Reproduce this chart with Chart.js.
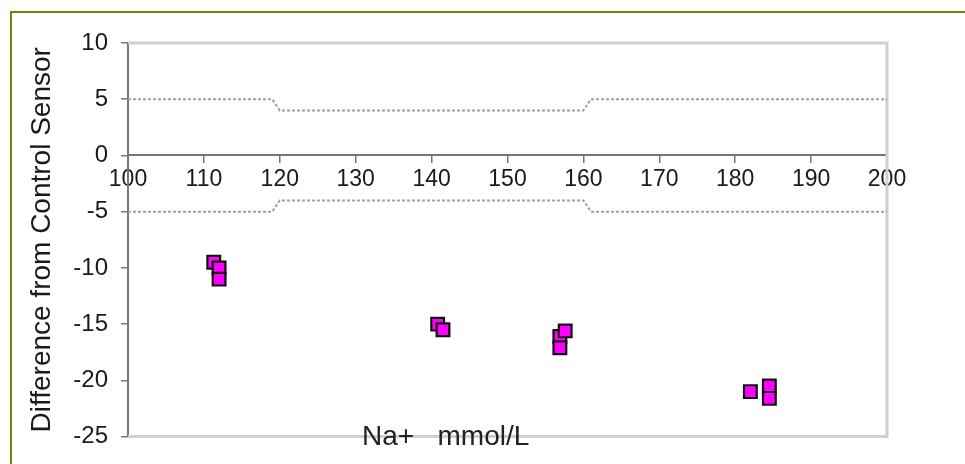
<!DOCTYPE html>
<html>
<head>
<meta charset="utf-8">
<script src="https://cdn.jsdelivr.net/npm/chart.js@4"></script>
<style>
  html, body { margin: 0; padding: 0; background: #ffffff; }
  #frame { position: absolute; left: 10px; top: 11px; right: 0; bottom: 0; border-top: 2px solid #808000; border-left: 2px solid #808000; }
  #wrap { position: absolute; left: 0; top: 0; width: 965px; height: 464px; }
</style>
</head>
<body>
<div id="frame"></div>
<div id="wrap"><canvas id="c"></canvas></div>
<script>
// Measured points: Na+ concentration (mmol/L) vs difference from control sensor
const naValues = [111.3, 112, 112, 140.8, 141.5, 156.9, 157.6, 156.9, 182, 184.5, 184.5];
const diffValues = [-9.5, -10, -11, -15, -15.5, -16.1, -15.6, -17.1, -21, -20.5, -21.6];

// Acceptance limits
const limitNa = [100, 119, 120, 160, 161, 200];
const upperLimit = [5, 5, 4, 4, 5, 5];
const lowerLimit = [-5, -5, -4, -4, -5, -5];

// Axis settings
const xMin = 100, xMax = 200, xStep = 10;
const yMin = -25, yMax = 10, yStep = 5;
const yTitle = 'Difference from Control Sensor';
const xTitle = 'Na+   mmol/L';

const pts = (xs, ys) => xs.map((x, i) => ({ x: x, y: ys[i] }));

const plotFrame = {
  id: 'plotFrame',
  beforeDatasetsDraw(chart) {
    const { ctx, chartArea: a } = chart;
    ctx.save();
    ctx.strokeStyle = '#cfcfcf';
    ctx.lineWidth = 3;
    ctx.beginPath();
    ctx.moveTo(a.left, a.top);
    ctx.lineTo(a.right, a.top);
    ctx.lineTo(a.right, a.bottom);
    ctx.lineTo(a.left, a.bottom);
    ctx.stroke();
    ctx.restore();
  },
  afterDatasetsDraw(chart) {
    const { ctx } = chart;
    ctx.save();
    ctx.font = '28px "Liberation Sans", Arial, sans-serif';
    ctx.fillStyle = '#222';
    ctx.textAlign = 'left';
    ctx.textBaseline = 'alphabetic';
    ctx.fillText(xTitle, 362, 445);
    ctx.restore();
  }
};

new Chart(document.getElementById('c'), {
  type: 'scatter',
  data: {
    datasets: [
      {
        data: pts(limitNa, upperLimit),
        showLine: true,
        borderColor: '#a0a0a0',
        borderWidth: 2,
        borderDash: [3, 2],
        pointRadius: 0,
        fill: false,
        tension: 0
      },
      {
        data: pts(limitNa, lowerLimit),
        showLine: true,
        borderColor: '#a0a0a0',
        borderWidth: 2,
        borderDash: [3, 2],
        pointRadius: 0,
        fill: false,
        tension: 0
      },
      {
        data: pts(naValues, diffValues),
        pointStyle: 'rect',
        pointRadius: 9,
        backgroundColor: '#ff00ff',
        borderColor: '#111',
        borderWidth: 2.2,
        showLine: false
      }
    ]
  },
  options: {
    responsive: true,
    maintainAspectRatio: false,
    animation: false,
    events: [],
    layout: { padding: { top: 43, right: 78, bottom: 27, left: 0 } },
    plugins: { legend: { display: false }, tooltip: { enabled: false } },
    scales: {
      x: {
        type: 'linear',
        position: { y: 0 },
        min: xMin, max: xMax,
        ticks: { stepSize: xStep, color: '#1a1a1a', padding: 3, font: { family: '"Liberation Sans", Arial, sans-serif', size: 23 } },
        grid: { drawOnChartArea: false, drawTicks: true, tickLength: 7, color: '#777', lineWidth: 1.5 },
        border: { display: true, color: '#777', width: 2 }
      },
      y: {
        type: 'linear',
        position: 'left',
        min: yMin, max: yMax,
        afterFit(scale) { scale.width = 128; },
        ticks: { stepSize: yStep, color: '#1a1a1a', padding: 13, font: { family: '"Liberation Sans", Arial, sans-serif', size: 24 } },
        grid: { drawOnChartArea: false, drawTicks: true, tickLength: 7, color: '#777', lineWidth: 1.5 },
        border: { display: true, color: '#777', width: 2 },
        title: { display: true, text: yTitle, color: '#1a1a1a', padding: { top: 25, bottom: 0 }, font: { family: '"Liberation Sans", Arial, sans-serif', size: 28 } }
      }
    }
  },
  plugins: [plotFrame]
});
</script>
</body>
</html>
